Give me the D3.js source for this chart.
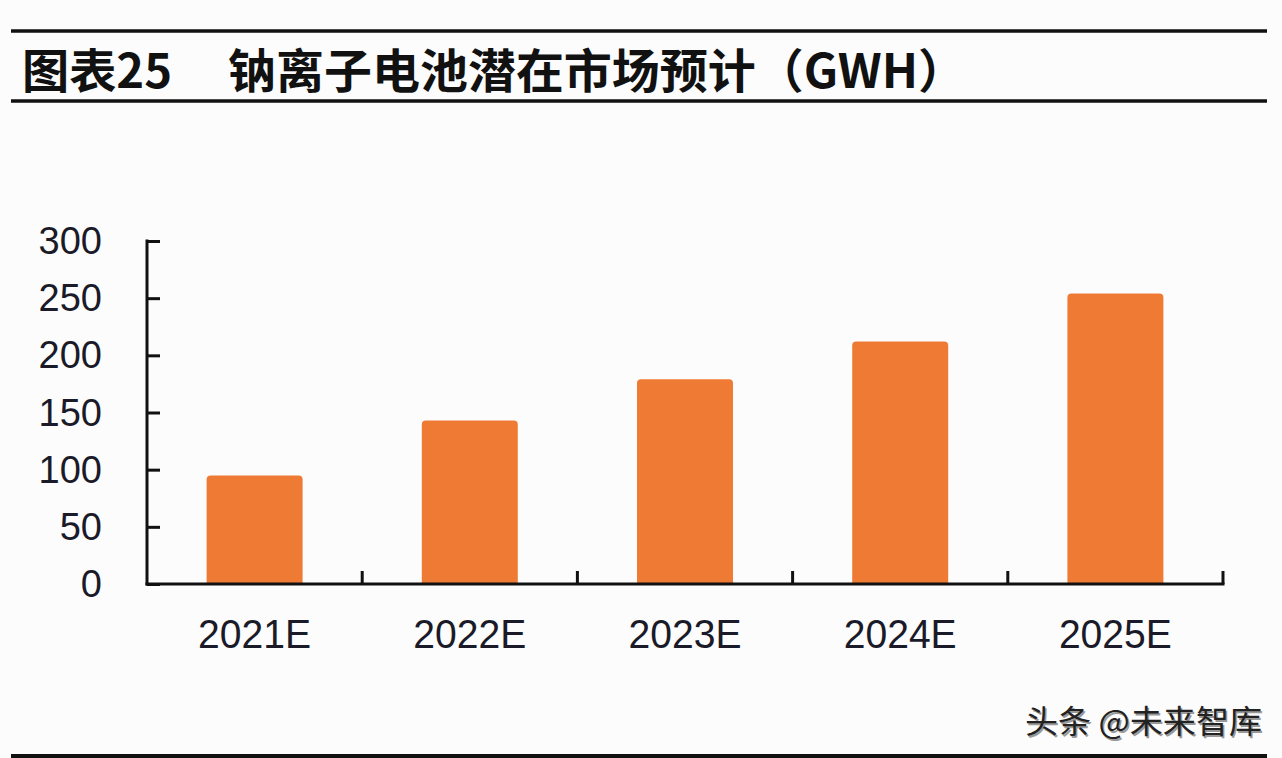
<!DOCTYPE html>
<html>
<head>
<meta charset="utf-8">
<script src="https://cdn.jsdelivr.net/npm/d3@7/dist/d3.min.js"></script>
<style>
  html, body { margin: 0; padding: 0; background: #fcfcfc; }
  svg { display: block; }
</style>
</head>
<body>
<script>
const categories = ["2021E", "2022E", "2023E", "2024E", "2025E"];
const values = [95, 143, 179, 212, 254];
const yTicks = [0, 50, 100, 150, 200, 250, 300];
const titleLabel = "图表25";
const titleText = "钠离子电池潜在市场预计（GWH）";
const watermark = "头条 @未来智库";

(function () {
const W = 1282, H = 758;
const svg = d3.select("body").append("svg").attr("width", W).attr("height", H);
svg.append("rect").attr("width", W).attr("height", H).attr("fill", "#fcfcfc");

// header rules
svg.append("line").attr("x1", 11).attr("x2", 1267).attr("y1", 31).attr("y2", 31)
  .attr("stroke", "#111").attr("stroke-width", 3.5);
svg.append("line").attr("x1", 11).attr("x2", 1267).attr("y1", 101).attr("y2", 101)
  .attr("stroke", "#111").attr("stroke-width", 3.5);
svg.append("line").attr("x1", 11).attr("x2", 1267).attr("y1", 756).attr("y2", 756)
  .attr("stroke", "#111").attr("stroke-width", 4);

const titleFont = "'Noto Sans CJK SC', 'Liberation Sans', sans-serif";
svg.append("text").attr("x", 22).attr("y", 88)
  .attr("font-family", titleFont).attr("font-weight", 700).attr("font-size", 47)
  .attr("fill", "#111")
  .attr("textLength", 150).attr("lengthAdjust", "spacingAndGlyphs")
  .text(titleLabel);
svg.append("text").attr("x", 228).attr("y", 88)
  .attr("font-family", titleFont).attr("font-weight", 700).attr("font-size", 47)
  .attr("fill", "#111")
  .attr("textLength", 738).attr("lengthAdjust", "spacingAndGlyphs")
  .text(titleText);

// chart
const pL = 147, pR = 1223, pT = 241, pB = 584;
const x = d3.scaleBand().domain(categories).range([pL, pR])
  .paddingInner(0.554).paddingOuter(0.277);
const y = d3.scaleLinear().domain([0, 300]).range([pB, pT]);

const bars = svg.append("g");
bars.selectAll("path").data(values).enter().append("path")
  .attr("fill", "#ef7a34")
  .attr("d", (d, i) => {
    const x0 = x(categories[i]), w = x.bandwidth();
    const y0 = y(d), y1 = y(0), r = 4;
    return `M${x0},${y1} V${y0 + r} Q${x0},${y0} ${x0 + r},${y0} H${x0 + w - r} Q${x0 + w},${y0} ${x0 + w},${y0 + r} V${y1} Z`;
  });

// y axis
const yAxis = d3.axisRight(y).tickValues(yTicks).tickSize(13).tickFormat("");
const gy = svg.append("g").attr("transform", `translate(${pL},0)`).call(yAxis);
gy.select(".domain").remove();
gy.selectAll(".tick line").attr("stroke", "#111").attr("stroke-width", 3);
svg.append("line").attr("x1", pL).attr("x2", pL).attr("y1", pT - 1.5).attr("y2", pB + 1.5)
  .attr("stroke", "#111").attr("stroke-width", 3);

svg.append("g").selectAll("text").data(yTicks).enter().append("text")
  .attr("x", 102).attr("y", d => y(d) + 13)
  .attr("text-anchor", "end")
  .attr("font-family", "'Liberation Sans', Arial, sans-serif").attr("font-size", 38)
  .attr("fill", "#1a1a28").text(d => d);

// x axis
const bounds = categories.map(c => x(c) - x.step() * x.paddingInner() / 2).slice(1).concat([pR]);
const gx = svg.append("g");
gx.append("line").attr("x1", pL - 1.5).attr("x2", pR + 1.5).attr("y1", pB).attr("y2", pB)
  .attr("stroke", "#111").attr("stroke-width", 3);
gx.selectAll(".xt").data(bounds).enter().append("line").attr("class", "xt")
  .attr("x1", d => d).attr("x2", d => d).attr("y1", pB).attr("y2", pB - 13)
  .attr("stroke", "#111").attr("stroke-width", 3);

svg.append("g").selectAll("text").data(categories).enter().append("text")
  .attr("x", d => x(d) + x.bandwidth() / 2).attr("y", 648)
  .attr("text-anchor", "middle")
  .attr("font-family", "'Liberation Sans', Arial, sans-serif").attr("font-size", 41)
  .attr("fill", "#1a1a28")
  .attr("textLength", 113).attr("lengthAdjust", "spacingAndGlyphs")
  .text(d => d);

// watermark
svg.append("text").attr("x", 1025).attr("y", 733)
  .attr("font-family", "'Noto Sans CJK SC', sans-serif").attr("font-size", 32)
  .attr("textLength", 237).attr("lengthAdjust", "spacingAndGlyphs")
  .attr("fill", "#999").attr("transform", "translate(1.5,1.5)").text(watermark);
svg.append("text").attr("x", 1025).attr("y", 733)
  .attr("font-family", "'Noto Sans CJK SC', sans-serif").attr("font-size", 32)
  .attr("textLength", 237).attr("lengthAdjust", "spacingAndGlyphs")
  .attr("fill", "#222").text(watermark);
})();
</script>
</body>
</html>
